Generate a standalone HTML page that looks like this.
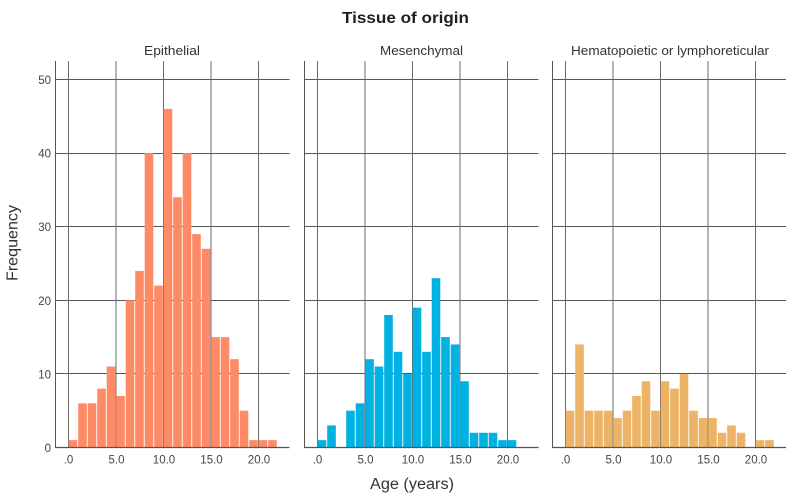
<!DOCTYPE html>
<html>
<head>
<meta charset="utf-8">
<style>
html,body{margin:0;padding:0;background:#fff}
svg{display:block}
text{font-family:"Liberation Sans",sans-serif}
</style>
</head>
<body>
<svg id="chart" width="800" height="502" viewBox="0 0 800 502" xmlns="http://www.w3.org/2000/svg">
<rect width="800" height="502" fill="#ffffff"/>
<text x="405.5" y="23" text-anchor="middle" font-size="16" font-weight="bold" fill="#1f1f1f" textLength="127" lengthAdjust="spacingAndGlyphs">Tissue of origin</text>
<text x="412" y="489" text-anchor="middle" font-size="15.5" fill="#333" textLength="84" lengthAdjust="spacingAndGlyphs">Age (years)</text>
<text transform="translate(17.5,243) rotate(-90)" text-anchor="middle" font-size="16" fill="#333" textLength="76" lengthAdjust="spacingAndGlyphs">Frequency</text>
</svg>
<script>
var panelTitles = ['Epithelial', 'Mesenchymal', 'Hematopoietic or lymphoreticular'];
var panelNames = ['epithelial', 'mesenchymal', 'hematopoietic'];
var epithelialCounts = [1, 6, 6, 8, 11, 7, 20, 24, 40, 22, 46, 34, 40, 29, 27, 15, 15, 12, 5, 1, 1, 1];
var mesenchymalCounts = [1, 3, 0, 5, 6, 12, 11, 18, 13, 10, 19, 13, 23, 15, 14, 9, 2, 2, 2, 1, 1];
var hematopoieticCounts = [5, 14, 5, 5, 5, 4, 5, 7, 9, 5, 9, 8, 10, 5, 4, 4, 2, 3, 2, 0, 1, 1];
var xTicks = [0, 5, 10, 15, 20];
var xTickLabels = ['.0', '5.0', '10.0', '15.0', '20.0'];
var yTicks = [0, 10, 20, 30, 40, 50];

var svg = document.getElementById('chart');
var NS = 'http://www.w3.org/2000/svg';
var seriesList = [epithelialCounts, mesenchymalCounts, hematopoieticCounts];
var colors = ['#ff8a66', '#00b1e1', '#edb468'];
var originX = [68.5, 317.5, 565.5];
var axisX = [55.5, 304.5, 552.5];
var endX = [289.5, 538.5, 786];
var titleX = [172, 421.5, 670];
var titleW = [56, 83, 198];

function xScale(panel, v) { return originX[panel] + v * 9.5; }
function yScale(v) { return 447.5 - v * 7.36; }

function line(x1, y1, x2, y2, color, width) {
  var l = document.createElementNS(NS, 'line');
  l.setAttribute('x1', x1);
  l.setAttribute('y1', y1);
  l.setAttribute('x2', x2);
  l.setAttribute('y2', y2);
  l.setAttribute('stroke', color);
  l.setAttribute('stroke-width', width);
  svg.appendChild(l);
  return l;
}
function label(x, y, str, anchor, size, color) {
  var t = document.createElementNS(NS, 'text');
  t.setAttribute('x', x);
  t.setAttribute('y', y);
  t.setAttribute('text-anchor', anchor);
  t.setAttribute('font-size', size);
  t.setAttribute('fill', color);
  t.textContent = str;
  svg.appendChild(t);
  return t;
}

for (var p = 0; p < 3; p++) {
  var title = label(titleX[p], 55, panelTitles[p], 'middle', 12.5, '#333');
  title.setAttribute('textLength', titleW[p]);
  title.setAttribute('lengthAdjust', 'spacingAndGlyphs');
  
  

  yTicks.forEach(function (v) {
    if (v === 0) return;
    var g = line(axisX[p], Math.floor(yScale(v)) + 0.5, endX[p], Math.floor(yScale(v)) + 0.5, '#555', 1);
    
    
  });
  xTicks.forEach(function (v, i) {
    var g = line(xScale(p, v), 61, xScale(p, v), 447.5, '#6a6a6a', 1);
    
    
    var t = label(xScale(p, v) + (i === 0 ? 0 : 0.5), 463.5, xTickLabels[i], 'middle', 11.5, '#444');
    
    
  });

  seriesList[p].forEach(function (count, bin) {
    if (count === 0) return;
    var x0 = xScale(p, bin);
    var r = document.createElementNS(NS, 'rect');
    r.setAttribute('x', x0 + 0.2);
    r.setAttribute('y', yScale(count));
    r.setAttribute('width', 8.6);
    r.setAttribute('height', yScale(0) - yScale(count));
    r.setAttribute('fill', colors[p]);
    
    
    svg.appendChild(r);
  });

  var yAxis = line(axisX[p], 61, axisX[p], 448, '#555', 1);
  
  
  var xAxis = line(axisX[p], 447.5, endX[p], 447.5, '#555', 1.2);
  
  
}

yTicks.forEach(function (v) {
  var t = label(51, yScale(v) + 4.5, String(v), 'end', 11.5, '#444');
  
  
});
</script>
</body>
</html>
